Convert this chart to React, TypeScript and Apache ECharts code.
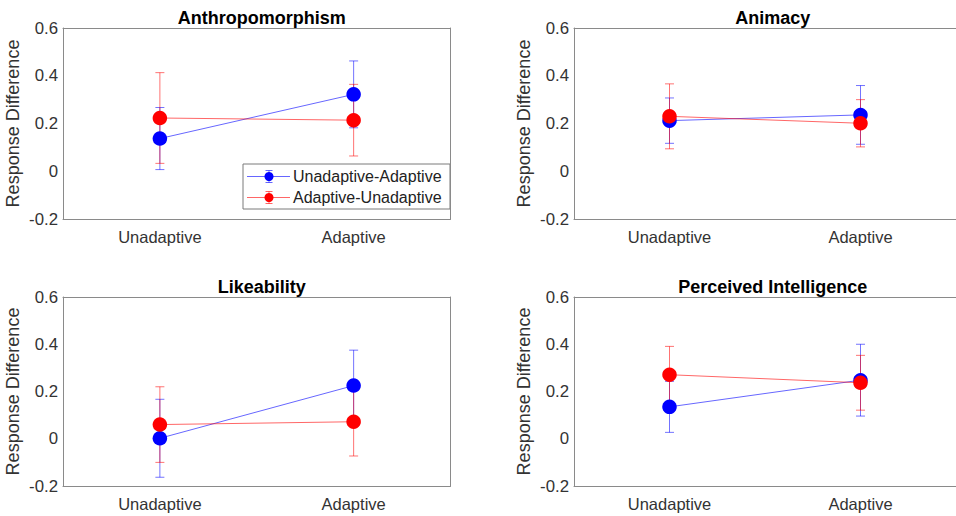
import React, { useEffect, useRef } from "react";
import * as echarts from "echarts";

const categories = ["Unadaptive", "Adaptive"];
const panelTitles = ["Anthropomorphism", "Animacy", "Likeability", "Perceived Intelligence"];
const seriesNames = ["Unadaptive-Adaptive", "Adaptive-Unadaptive"];
const seriesColors = ["#0000ff", "#ff0000"];

// per panel: [Unadaptive, Adaptive]
const unadaptiveAdaptiveMean = [
  [0.137, 0.322],
  [0.212, 0.236],
  [0.002, 0.225],
  [0.135, 0.248],
];
const unadaptiveAdaptiveErr = [
  [0.13, 0.14],
  [0.095, 0.123],
  [0.165, 0.15],
  [0.108, 0.152],
];
const adaptiveUnadaptiveMean = [
  [0.223, 0.214],
  [0.23, 0.201],
  [0.06, 0.072],
  [0.271, 0.237],
];
const adaptiveUnadaptiveErr = [
  [0.19, 0.15],
  [0.136, 0.099],
  [0.16, 0.145],
  [0.12, 0.116],
];

const yMin = -0.2;
const yMax = 0.6;
const yInterval = 0.2;
const yLabel = "Response Difference";

const gridRects = [
  { left: 63, top: 28, width: 387.5, height: 191 },
  { left: 574, top: 28, width: 387.5, height: 191 },
  { left: 63, top: 297, width: 387.5, height: 189 },
  { left: 574, top: 297, width: 387.5, height: 189 },
];

const FONT = "Liberation Sans, Arial, Helvetica, sans-serif";
const AXIS_COLOR = "#8a8a8a";
const TEXT_COLOR = "#333333";

export default function App() {
  const ref = useRef<HTMLDivElement>(null);

  useEffect(() => {
    if (!ref.current) return;
    const chart = echarts.init(ref.current, undefined, { renderer: "svg" });

    const means = [unadaptiveAdaptiveMean, adaptiveUnadaptiveMean];
    const errs = [unadaptiveAdaptiveErr, adaptiveUnadaptiveErr];

    const grid: any[] = [];
    const xAxis: any[] = [];
    const yAxis: any[] = [];
    const series: any[] = [];
    const title: any[] = [];

    const fmt = (v: number) => {
      const r = Math.round(v * 10) / 10;
      return r === 0 ? "0" : r.toFixed(1);
    };

    gridRects.forEach((g, k) => {
      grid.push({ ...g, containLabel: false });
      title.push({
        text: panelTitles[k],
        left: g.left + g.width / 2,
        top: g.top - 24,
        textAlign: "center",
        textStyle: { fontSize: 18, fontWeight: "bold", color: "#000", fontFamily: FONT },
      });
      const tickStyle = { inside: true, length: 5, lineStyle: { color: AXIS_COLOR, width: 1 } };
      const lineStyle = { show: true, onZero: false, lineStyle: { color: AXIS_COLOR, width: 1 } };
      xAxis.push({
        type: "category",
        gridIndex: k,
        data: categories,
        boundaryGap: true,
        position: "bottom",
        axisLine: lineStyle,
        axisTick: { ...tickStyle, alignWithLabel: true },
        axisLabel: { fontSize: 16.5, color: TEXT_COLOR, margin: 9, fontFamily: FONT },
        splitLine: { show: false },
      });
      xAxis.push({
        type: "category",
        gridIndex: k,
        data: categories,
        boundaryGap: true,
        position: "top",
        axisLine: lineStyle,
        axisTick: { ...tickStyle, alignWithLabel: true },
        axisLabel: { show: false },
        splitLine: { show: false },
      });
      yAxis.push({
        type: "value",
        gridIndex: k,
        min: yMin,
        max: yMax,
        interval: yInterval,
        position: "left",
        name: yLabel,
        nameLocation: "middle",
        nameGap: 41,
        nameTextStyle: { fontSize: 18, color: TEXT_COLOR, fontFamily: FONT },
        axisLine: lineStyle,
        axisTick: tickStyle,
        axisLabel: { fontSize: 16.8, color: TEXT_COLOR, margin: 5, fontFamily: FONT, formatter: fmt },
        splitLine: { show: false },
      });
      yAxis.push({
        type: "value",
        gridIndex: k,
        min: yMin,
        max: yMax,
        interval: yInterval,
        position: "right",
        axisLine: lineStyle,
        axisTick: tickStyle,
        axisLabel: { show: false },
        splitLine: { show: false },
      });

      for (let s = 0; s < 2; s++) {
        const color = seriesColors[s];
        const errData = categories.map((_, i) => [
          i,
          means[s][k][i] - errs[s][k][i],
          means[s][k][i] + errs[s][k][i],
        ]);
        series.push({
          type: "custom",
          name: seriesNames[s] + " error",
          xAxisIndex: k * 2,
          yAxisIndex: k * 2,
          data: errData,
          encode: { x: 0, y: [1, 2] },
          clip: false,
          renderItem: (params: any, api: any) => {
            const x = api.value(0);
            const lo = api.coord([x, api.value(1)]);
            const hi = api.coord([x, api.value(2)]);
            const hw = 4.5;
            const st = { stroke: color, lineWidth: 1, opacity: 0.55 };
            return {
              type: "group",
              children: [
                { type: "line", shape: { x1: hi[0], y1: hi[1], x2: lo[0], y2: lo[1] }, style: st },
                { type: "line", shape: { x1: hi[0] - hw, y1: hi[1], x2: hi[0] + hw, y2: hi[1] }, style: st },
                { type: "line", shape: { x1: lo[0] - hw, y1: lo[1], x2: lo[0] + hw, y2: lo[1] }, style: st },
              ],
            };
          },
        });
        series.push({
          type: "line",
          name: seriesNames[s],
          xAxisIndex: k * 2,
          yAxisIndex: k * 2,
          data: means[s][k],
          symbol: "circle",
          symbolSize: 14.5,
          lineStyle: { color, width: 1, opacity: 0.6 },
          itemStyle: { color, opacity: 1 },
          emphasis: { disabled: true },
        });
      }
    });

    // legend drawn in the first panel (MATLAB style, with error-bar icons)
    const lg = { x: 243, y: 164, w: 207, h: 45 };
    const legendChildren: any[] = [
      {
        type: "rect",
        shape: { x: lg.x, y: lg.y, width: lg.w, height: lg.h },
        style: { fill: "#ffffff", stroke: "#7a7a7a", lineWidth: 1 },
      },
    ];
    seriesNames.forEach((nm, s) => {
      const cy = lg.y + 12.5 + s * 21;
      const color = seriesColors[s];
      const st = { stroke: color, lineWidth: 1, opacity: 0.6 };
      legendChildren.push(
        { type: "line", shape: { x1: lg.x + 4, y1: cy, x2: lg.x + 47, y2: cy }, style: st },
        { type: "line", shape: { x1: lg.x + 26, y1: cy - 6, x2: lg.x + 26, y2: cy + 6 }, style: st },
        { type: "line", shape: { x1: lg.x + 22.5, y1: cy - 6, x2: lg.x + 29.5, y2: cy - 6 }, style: st },
        { type: "line", shape: { x1: lg.x + 22.5, y1: cy + 6, x2: lg.x + 29.5, y2: cy + 6 }, style: st },
        { type: "circle", shape: { cx: lg.x + 26, cy, r: 4.5 }, style: { fill: color } },
        {
          type: "text",
          x: lg.x + 50,
          y: cy,
          style: {
            text: nm,
            fontSize: 16,
            fill: "#222222",
            fontFamily: FONT,
            verticalAlign: "middle",
            align: "left",
          },
        }
      );
    });

    chart.setOption({
      animation: false,
      backgroundColor: "#ffffff",
      title,
      grid,
      xAxis,
      yAxis,
      series,
      graphic: [{ type: "group", z: 100, children: legendChildren }],
    });

    return () => chart.dispose();
  }, []);

  return (
    <div
      ref={ref}
      style={{ position: "fixed", left: 0, top: 0, width: 956, height: 516, background: "#fff" }}
    />
  );
}
